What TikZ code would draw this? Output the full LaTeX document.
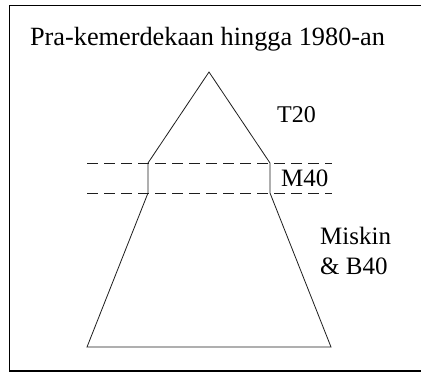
\documentclass[tikz,border=0pt]{standalone}
\usepackage{fontspec}
\setmainfont{Liberation Serif}
\usetikzlibrary{positioning, calc}
\usepackage{xcolor}
\definecolor{lineblack}{RGB}{30, 30, 30}

\begin{document}
\begin{tikzpicture}[x=1pt, y=-1pt,
  lbl/.style={font=\fontsize{25}{30}\selectfont, inner sep=0pt, align=left},
  cut/.style={dashed, dash pattern=on 11pt off 6pt, line width=0.8pt, lineblack}]
\useasboundingbox (0,0) rectangle (421,378);
\clip (0,0) rectangle (421,378);
\fill[white] (0,0) rectangle (421,378);
% frame
\draw[line width=1.6pt] (430,5.5) -- (9.5,5.5) -- (9.5,371) -- (430,371);
\node[lbl, font=\fontsize{26.3}{30}\selectfont, anchor=base] (title) at (207.5,45) {Pra-kemerdekaan hingga 1980-an};
% pyramid
\coordinate (apex) at (209,72);
\coordinate (tl) at (148,163);
\coordinate (tr) at (270,163);
\coordinate (ml) at (148,193);
\coordinate (mr) at (270,193);
\coordinate (bl) at (87,347);
\coordinate (br) at (331,347);
\draw[line width=0.8pt, lineblack] (apex) -- (tr) -- (mr) -- (br) -- (bl) -- (ml) -- (tl) -- cycle;
\draw[cut] (87,163) -- (332,163);
\draw[cut] (87,193) -- (332,193);
% labels
\node[lbl, font=\fontsize{24}{28}\selectfont, anchor=base west] (t20) at (277,122) {T20};
\node[lbl, anchor=base west] (m40) at (281,186) {M40};
\node[lbl, anchor=west] (b40) at (320,251) {Miskin\\\& B40};
\end{tikzpicture}
\end{document}
